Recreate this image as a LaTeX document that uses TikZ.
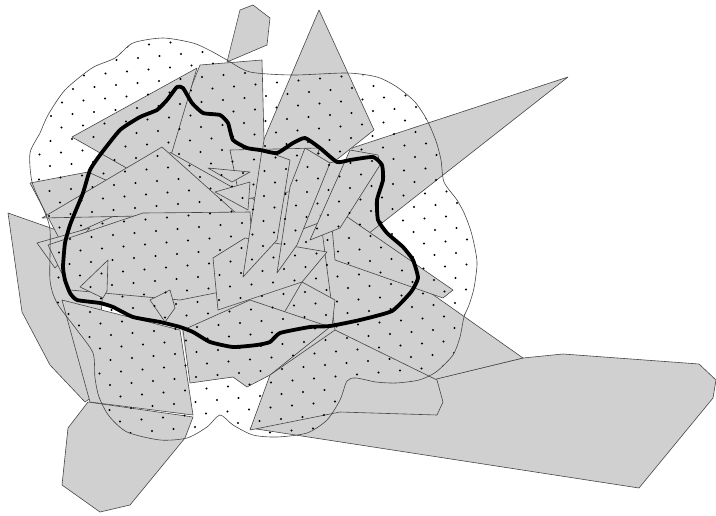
\documentclass[tikz,border=0pt]{standalone}
\usetikzlibrary{calc}
\definecolor{shardgray}{RGB}{208,208,208}
\definecolor{edgegray}{RGB}{70,70,70}
\tikzset{
  shard/.style={fill=shardgray, draw=edgegray, line width=0.6pt, line join=round},
  cloudline/.style={draw=edgegray, line width=0.6pt},
  speck/.style={fill=black},
  route/.style={draw=black, line width=3.8pt, line join=round}
}
\def\cloudpath{plot[smooth cycle, tension=0.45] coordinates {
  (40,133) (30,153) (32,182) (43,208) (50,230) (50,280) (57,303) (77,330)
  (93,353) (95,378) (99,397) (109,416) (127,432) (160,440) (187,438) (207,427)
  (220,415) (233,425) (253,435) (277,437) (307,433) (327,420) (340,400) (347,381)
  (356,378) (376,382) (396,383) (419,380) (436,372) (453,355) (460,337) (464,317)
  (469,305) (474,288) (477,262) (472,235) (465,215) (457,200) (444,182) (441,160)
  (436,141) (427,120) (415,102) (397,87) (377,77) (347,73) (293,75) (250,72)
  (227,60) (211,51) (193,43) (163,38) (133,43) (115,58) (92,68) (65,90) (48,115)}}
\def\routepath{plot[smooth cycle, tension=0.3] coordinates {
  (177,87) (183,88) (192,103) (203,113) (220,115) (228,123) (233,140) (247,148)
  (260,150) (277,153) (293,143) (305,138) (320,148) (337,162) (350,160) (373,157)
  (382,165) (383,180) (377,200) (378,220) (387,233) (403,247) (413,260) (418,278)
  (411,292) (392,311) (360,320) (330,326) (310,327) (280,333) (270,342) (257,345)
  (233,347) (210,342) (193,332) (180,327) (160,322) (133,317) (113,307) (100,303)
  (77,300) (70,293) (65,280) (63,267) (65,243) (70,225) (76,210) (83,193)
  (90,170) (100,155) (120,130) (140,117) (157,110) (167,100)}}

\begin{document}
\begin{tikzpicture}[x=1pt, y=-1pt]
  \useasboundingbox (0,0) rectangle (716,515);

  % Gray ground under the route
  \fill[shardgray] \routepath;
  \fill[shardgray] (180,320) -- (340,320) -- (335,345) -- (270,375) -- (190,380) -- cycle;

  % Shards outside and across the dotted region
  \draw[shard] (227,62) -- (240,10) -- (253,5) -- (270,18) -- (267,45) -- cycle;
  \draw[shard] (319,10) -- (374,130) -- (330,165) -- (250,172) -- cycle;
  \draw[shard] (568,77) -- (352,148) -- (345,252) -- cycle;
  \draw[shard] (200,65) -- (262,60) -- (264,140) -- (255,200) -- (166,150) -- cycle;
  \draw[shard] (72,137) -- (197,68) -- (172,152) -- (130,170) -- cycle;
  \draw[shard] (8,213) -- (62,232) -- (105,262) -- (95,395) -- (85,402) -- (50,365) -- (22,312) -- cycle;
  \draw[shard] (30,183) -- (88,172) -- (150,200) -- (60,240) -- cycle;
  \draw[shard] (250,428) -- (300,412) -- (423,382) -- (523,358) -- (563,354) -- (699,364)
    -- (716,380) -- (713,398) -- (639,488) -- cycle;
  \draw[shard] (88,402) -- (193,417) -- (185,438) -- (130,505) -- (100,512) -- (62,485) -- (68,428) -- cycle;

  % Shards in the middle
  \draw[shard] (290,170) -- (345,160) -- (340,215) -- (300,230) -- cycle;
  \draw[shard] (230,150) -- (320,148) -- (300,190) -- (240,200) -- cycle;
  \draw[shard] (320,215) -- (523,358) -- (420,383) -- (335,330) -- cycle;
  \draw[shard] (330,205) -- (453,290) -- (443,298) -- (335,260) -- cycle;
  \draw[shard] (350,150) -- (378,155) -- (380,165) -- (340,228) -- (310,240) -- cycle;
  \draw[shard] (162,147) -- (237,214) -- (42,218) -- cycle;
  \draw[shard] (37,243) -- (90,228) -- (55,268) -- cycle;
  \draw[shard] (48,245) -- (143,213) -- (250,212) -- (255,285) -- (180,300) -- (70,290) -- cycle;
  \draw[shard] (62,300) -- (180,330) -- (193,415) -- (90,402) -- cycle;
  \draw[shard] (108,260) -- (80,287) -- (103,298) -- (107,291) -- cycle;
  \draw[shard] (150,300) -- (170,290) -- (175,308) -- (165,322) -- cycle;
  \draw[shard] (213,258) -- (245,238) -- (327,252) -- (302,282) -- (218,310) -- cycle;
  \draw[shard] (302,282) -- (335,300) -- (332,327) -- (280,320) -- cycle;
  \draw[shard] (183,330) -- (250,300) -- (330,327) -- (270,375) -- (247,387) -- (233,377) -- (190,383) -- cycle;
  \draw[shard] (270,375) -- (335,330) -- (437,380) -- (443,402) -- (437,415) -- (340,412) -- (250,430) -- cycle;
  \draw[shard] (262,150) -- (290,160) -- (277,240) -- (243,277) -- cycle;
  \draw[shard] (305,148) -- (330,163) -- (297,245) -- (277,273) -- (290,187) -- cycle;
  \draw[shard] (208,168) -- (250,172) -- (232,182) -- cycle;
  \draw[shard] (215,192) -- (250,182) -- (248,210) -- cycle;

  % Dotted region
  \begin{scope}
    \clip \cloudpath;
    \foreach \i in {-20,...,24}
      \foreach \j in {0,...,39}
        \fill[speck] ({10+21.5*\i+10.5*\j},{20-2*\i+11.5*\j}) circle (1.1pt);
  \end{scope}
  \draw[cloudline] \cloudpath;

  % Closed route
  \draw[route] \routepath;
\end{tikzpicture}
\end{document}
